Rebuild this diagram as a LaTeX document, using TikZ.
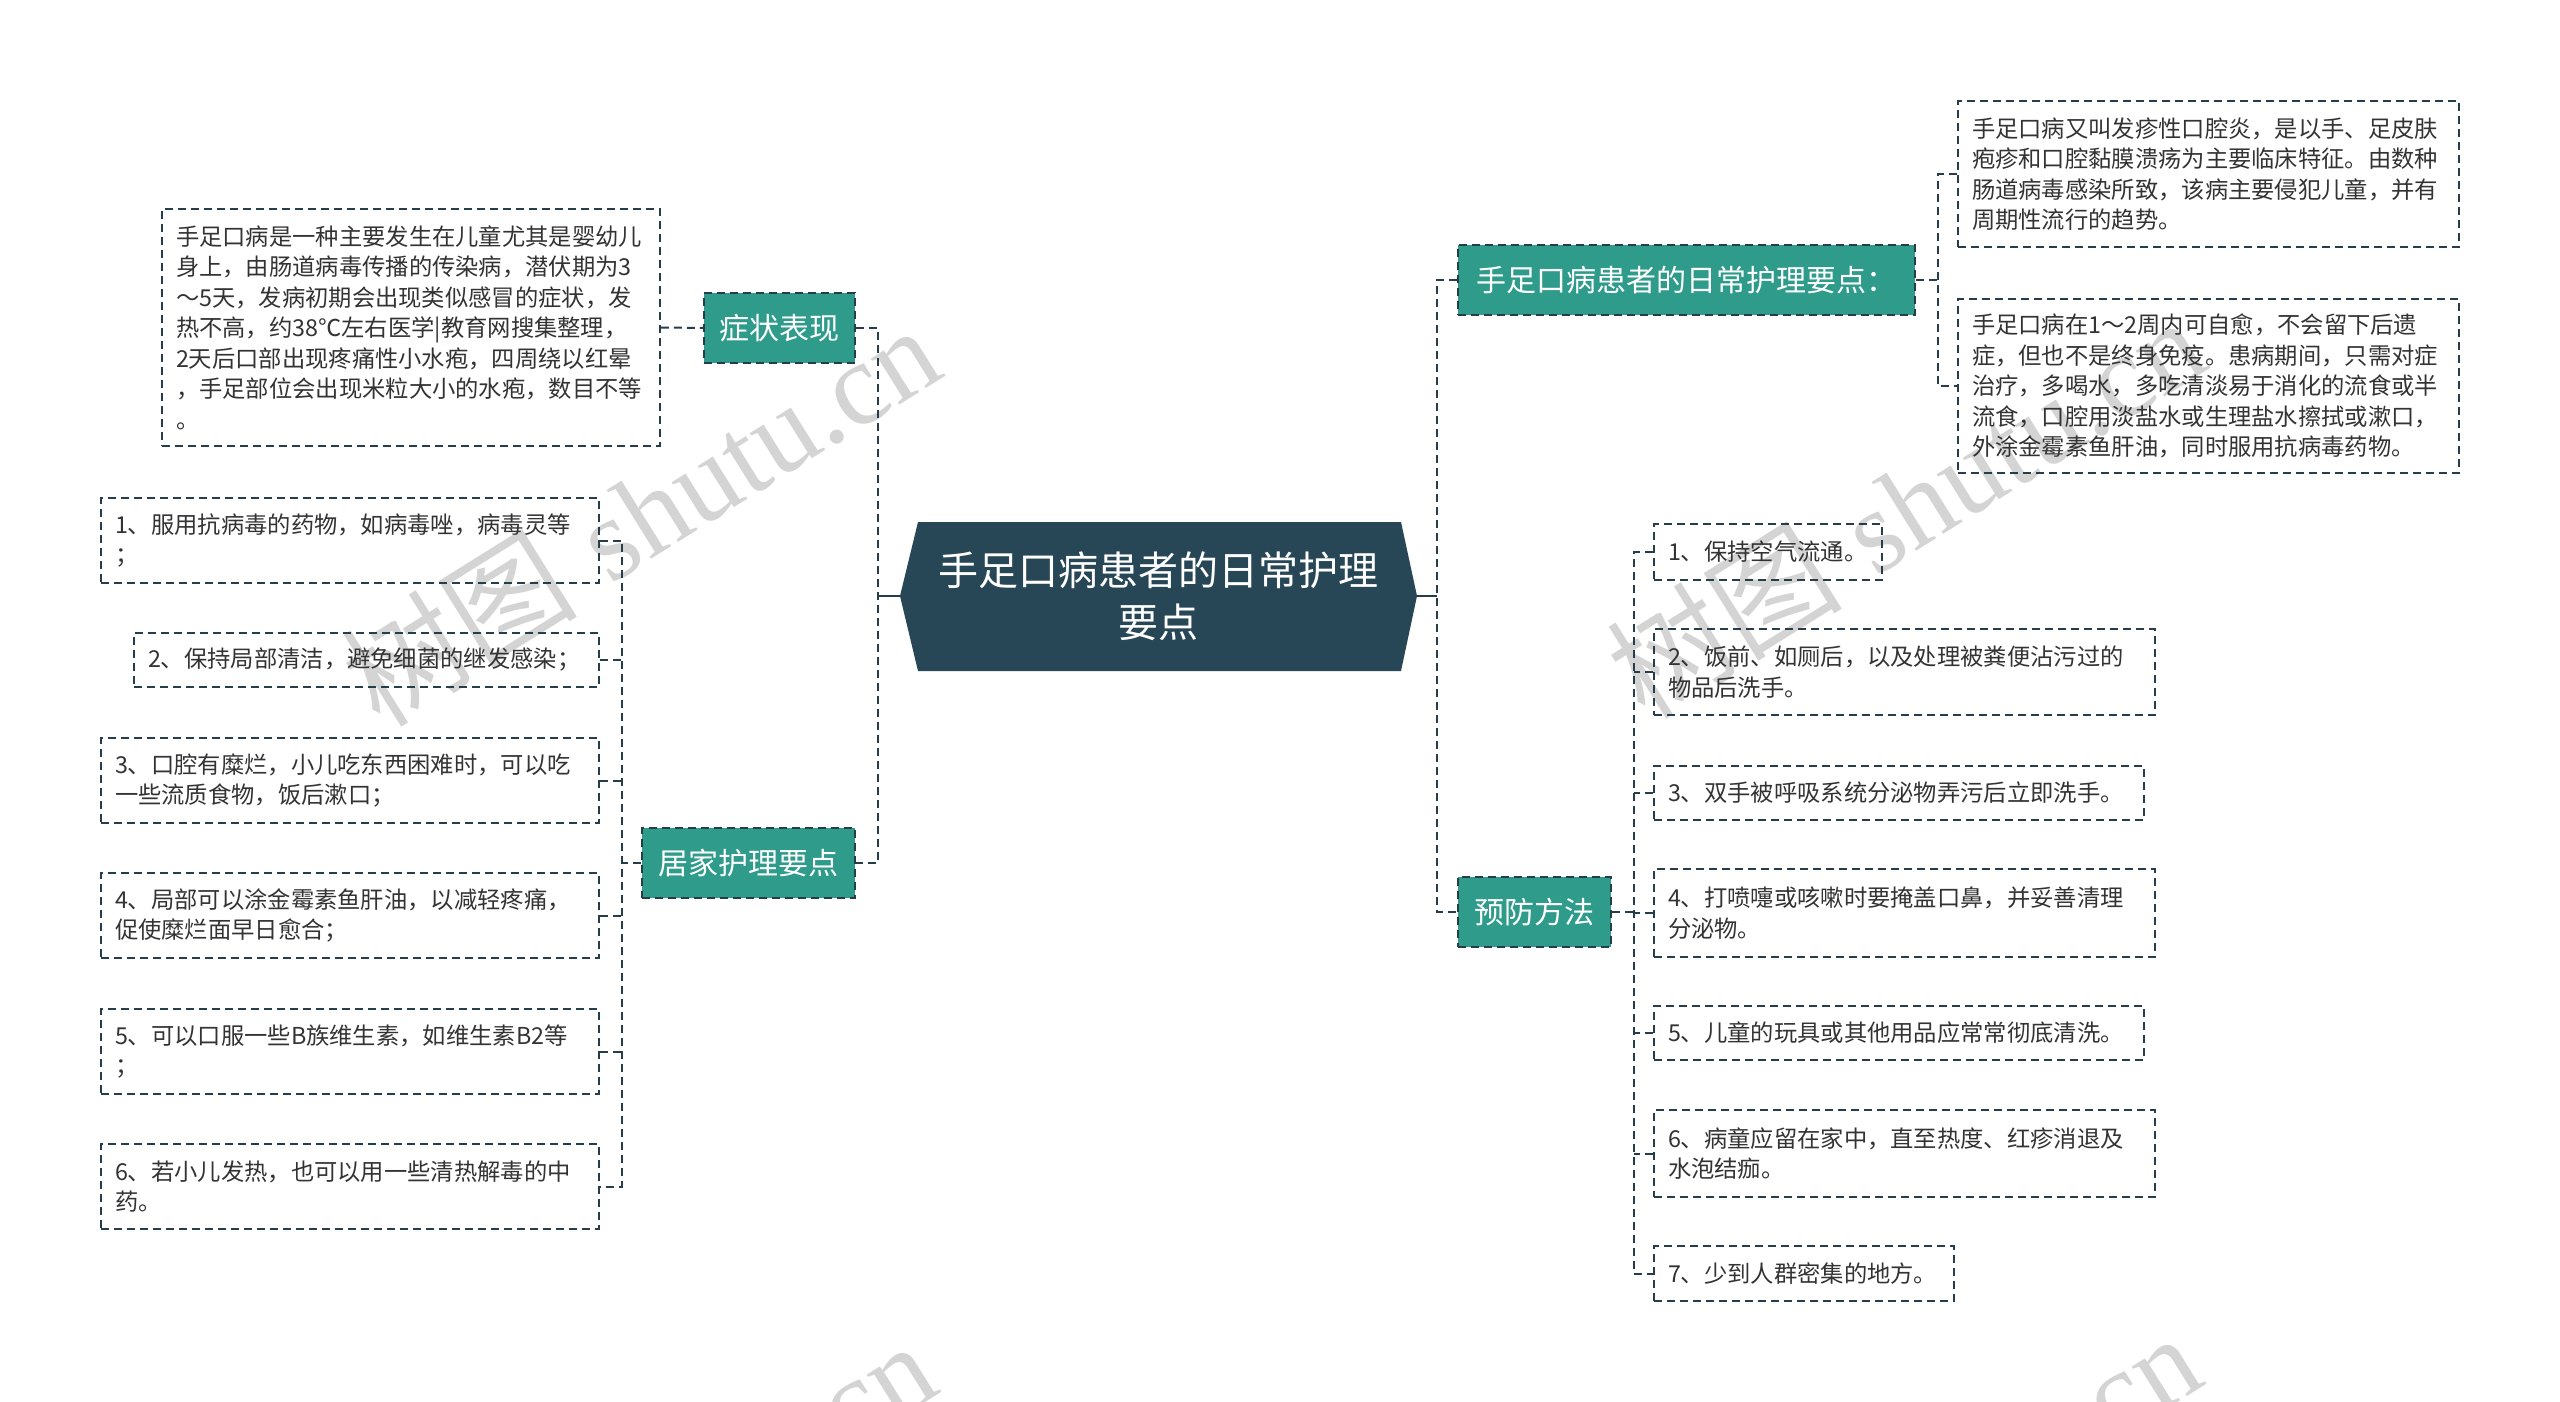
\documentclass[tikz,border=0pt]{standalone}
\usepackage{fontspec}
\newfontfamily\cjk{Noto Sans CJK SC}
\newfontfamily\wmserif{Liberation Serif}
\definecolor{linec}{HTML}{263D4A}
\definecolor{textc}{HTML}{333333}
\definecolor{tealc}{HTML}{2E9B8B}
\definecolor{centerc}{HTML}{274656}
\tikzset{
  conn/.style={draw=linec, line width=1pt, dash pattern=on 4pt off 2.5pt},
  solidc/.style={draw=linec, line width=1.3pt},
  leaf/.style={draw=linec, line width=0.9pt, dash pattern=on 4pt off 2.5pt, text=textc,
    font=\cjk\fontsize{11.65}{15.25}\selectfont, align=left, inner sep=0pt, rectangle},
  branch/.style={draw=linec, line width=0.9pt, dash pattern=on 4pt off 2.5pt, fill=tealc,
    text=white, font=\cjk\fontsize{15}{18}\selectfont, inner sep=0pt, rectangle, minimum height=35pt},
  wm/.style={text=black!17, rotate=32, inner sep=0pt, font=\fontsize{59}{59}\selectfont}
}
\begin{document}
\begin{tikzpicture}[x=0.5pt,y=-0.5pt]
\useasboundingbox (0,0) rectangle (2560,1402);
\fill[white] (0,0) rectangle (2560,1402);

% watermarks
\begin{scope}
\clip (0,0) rectangle (2560,1402);
\node[wm] (wm1) at (640,514) {{\cjk 树图} {\wmserif shutu.cn}};
\node[wm] (wm2) at (1905,506) {{\cjk 树图} {\wmserif shutu.cn}};
\node[wm] (wm3) at (636,1530) {{\cjk 树图} {\wmserif shutu.cn}};
\node[wm] (wm4) at (1901,1522) {{\cjk 树图} {\wmserif shutu.cn}};
\end{scope}

% central node
\fill[centerc] (900,596) -- (918,522) -- (1401,522) -- (1417,596) -- (1401,671) -- (918,671) -- cycle;
\node[text=white, font=\cjk\fontsize{20}{26}\selectfont, align=center, inner sep=0pt] (c) at (1158.5,596) {手足口病患者的日常护理\\要点};
\coordinate (cw) at (900,596);
\coordinate (ce) at (1417,596);
\coordinate (ls) at (878,596);
\coordinate (rs) at (1437,596);

% branches
\node[branch, minimum width=75.5pt] (sym) at (779.5,328) {症状表现};
\node[branch, minimum width=106.5pt] (home) at (748.5,863) {居家护理要点};
\node[branch, minimum width=228.5pt] (key) at (1686.5,280) {手足口病患者的日常护理要点：};
\node[branch, minimum width=76.5pt] (prev) at (1534.5,912) {预防方法};

% symptom text
\node[leaf, minimum width=249pt, minimum height=118.5pt, text width=235pt] (st) at (411,327.5)
 {手足口病是一种主要发生在儿童尤其是婴幼儿\\身上，由肠道病毒传播的传染病，潜伏期为3\\～5天，发病初期会出现类似感冒的症状，发\\热不高，约38℃左右医学|教育网搜集整理，\\2天后口部出现疼痛性小水疱，四周绕以红晕\\，手足部位会出现米粒大小的水疱，数目不等\\。};

% home items
\node[leaf, minimum width=249pt, minimum height=42.5pt, text width=235pt] (h1) at (350,540.5)
 {1、服用抗病毒的药物，如病毒唑，病毒灵等\\；};
\node[leaf, minimum width=232.5pt, minimum height=27pt, text width=218.5pt] (h2) at (366.5,660)
 {2、保持局部清洁，避免细菌的继发感染；};
\node[leaf, minimum width=249pt, minimum height=42.5pt, text width=235pt] (h3) at (350,780.5)
 {3、口腔有糜烂，小儿吃东西困难时，可以吃\\一些流质食物，饭后漱口；};
\node[leaf, minimum width=249pt, minimum height=42.5pt, text width=235pt] (h4) at (350,915.5)
 {4、局部可以涂金霉素鱼肝油，以减轻疼痛，\\促使糜烂面早日愈合；};
\node[leaf, minimum width=249pt, minimum height=42.5pt, text width=235pt] (h5) at (350,1051.5)
 {5、可以口服一些B族维生素，如维生素B2等\\；};
\node[leaf, minimum width=249pt, minimum height=42.5pt, text width=235pt] (h6) at (350,1186.5)
 {6、若小儿发热，也可以用一些清热解毒的中\\药。};

% key texts
\node[leaf, minimum width=250.5pt, minimum height=73pt, text width=236.5pt] (ka) at (2208.5,174)
 {手足口病又叫发疹性口腔炎，是以手、足皮肤\\疱疹和口腔黏膜溃疡为主要临床特征。由数种\\肠道病毒感染所致，该病主要侵犯儿童，并有\\周期性流行的趋势。};
\node[leaf, minimum width=250.5pt, minimum height=87pt, text width=236.5pt] (kb) at (2208.5,386)
 {手足口病在1～2周内可自愈，不会留下后遗\\症，但也不是终身免疫。患病期间，只需对症\\治疗，多喝水，多吃清淡易于消化的流食或半\\流食，口腔用淡盐水或生理盐水擦拭或漱口，\\外涂金霉素鱼肝油，同时服用抗病毒药物。};

% prevention items
\node[leaf, minimum width=114pt, minimum height=28pt, text width=100pt] (p1) at (1768,552)
 {1、保持空气流通。};
\node[leaf, minimum width=250.5pt, minimum height=43pt, text width=236.5pt] (p2) at (1904.5,672)
 {2、饭前、如厕后，以及处理被粪便沾污过的\\物品后洗手。};
\node[leaf, minimum width=245pt, minimum height=27pt, text width=231pt] (p3) at (1899,793)
 {3、双手被呼吸系统分泌物弄污后立即洗手。};
\node[leaf, minimum width=250.5pt, minimum height=44pt, text width=236.5pt] (p4) at (1904.5,913)
 {4、打喷嚏或咳嗽时要掩盖口鼻，并妥善清理\\分泌物。};
\node[leaf, minimum width=245pt, minimum height=27pt, text width=231pt] (p5) at (1899,1033)
 {5、儿童的玩具或其他用品应常常彻底清洗。};
\node[leaf, minimum width=250.5pt, minimum height=43.5pt, text width=236.5pt] (p6) at (1904.5,1153.5)
 {6、病童应留在家中，直至热度、红疹消退及\\水泡结痂。};
\node[leaf, minimum width=150pt, minimum height=27.5pt, text width=136pt] (p7) at (1804,1273.5)
 {7、少到人群密集的地方。};

% connectors
\draw[solidc] (cw) -- (ls);
\draw[solidc] (ce) -- (rs);
\draw[conn] (sym.east) -- (sym.east -| ls) -- (home.east -| ls) -- (home.east);
\draw[conn] (key.west) -- (key.west -| rs) -- (prev.west -| rs) -- (prev.west);
\draw[conn] (st.east) -- (sym.west);

\coordinate (hs) at (622,863);
\draw[conn] (home.west) -- (hs);
\draw[conn] (h1.east) -- (h1.east -| hs) -- (h6.east -| hs) -- (h6.east);
\foreach \n in {h2,h3,h4,h5} \draw[conn] (\n.east) -- (\n.east -| hs);

\coordinate (ks) at (1938,280);
\draw[conn] (key.east) -- (ks);
\draw[conn] (ka.west) -- (ka.west -| ks) -- (kb.west -| ks) -- (kb.west);

\coordinate (ps) at (1634,912);
\draw[conn] (prev.east) -- (ps);
\draw[conn] (p1.west) -- (p1.west -| ps) -- (p7.west -| ps) -- (p7.west);
\foreach \n in {p2,p3,p4,p5,p6} \draw[conn] (\n.west) -- (\n.west -| ps);
\end{tikzpicture}
\end{document}
